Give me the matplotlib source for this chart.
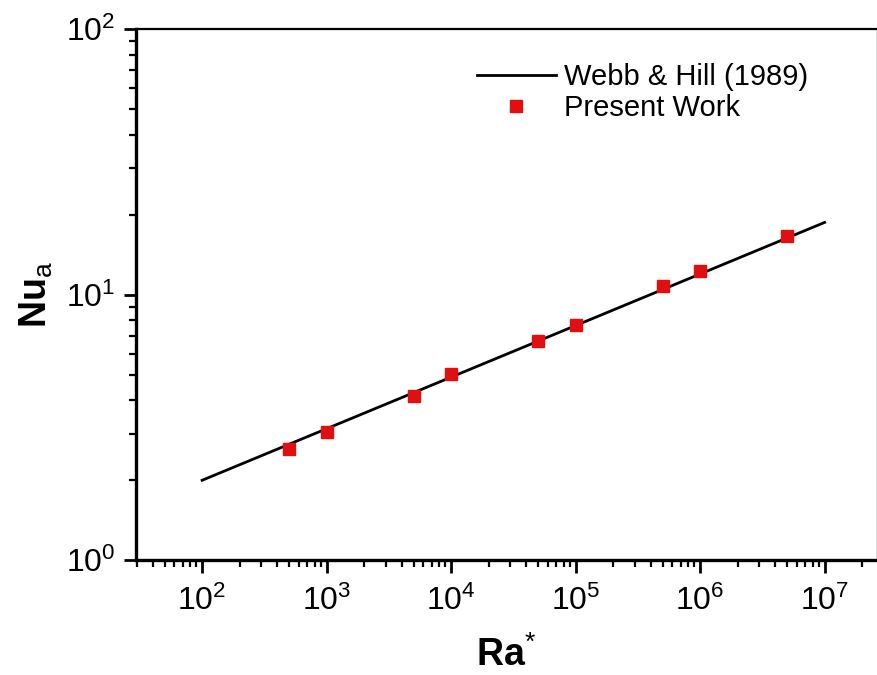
import matplotlib
matplotlib.use('Agg')
import matplotlib.pyplot as plt
from matplotlib.ticker import LogLocator, NullFormatter

plt.rcParams['font.family'] = ['Liberation Sans', 'DejaVu Sans']
plt.rcParams['mathtext.fontset'] = 'custom'
plt.rcParams['mathtext.rm'] = 'Liberation Sans'
plt.rcParams['mathtext.bf'] = 'Liberation Sans:bold'

# Webb & Hill (1989) correlation, read at its two ends
ra_line = [1e2, 1e7]
nu_line = [2.0, 18.7]

# present work
ra_pts = [5e2, 1e3, 5e3, 1e4, 5e4, 1e5, 5e5, 1e6, 5e6]
nu_pts = [2.62, 3.03, 4.15, 5.02, 6.68, 7.67, 10.8, 12.3, 16.6]

fig = plt.figure(figsize=(8.78, 6.75), dpi=100)
ax = fig.add_axes([0.155, 0.170, 0.843, 0.787])

ax.plot(ra_line, nu_line, color='black', lw=2.0, label='Webb & Hill (1989)', zorder=2)
ax.plot(ra_pts, nu_pts, 's', color='#e01010', ms=8.5, mec='#e01010',
        linestyle='none', label='Present Work', zorder=3)

ax.set_xscale('log')
ax.set_yscale('log')
ax.set_xlim(29.5, 2.6e7)
ax.set_ylim(1, 100)

ax.xaxis.set_major_locator(LogLocator(base=10, numticks=20))
ax.xaxis.set_minor_locator(LogLocator(base=10, subs=range(2, 10), numticks=50))
ax.xaxis.set_minor_formatter(NullFormatter())
ax.yaxis.set_major_locator(LogLocator(base=10, numticks=20))
ax.yaxis.set_minor_locator(LogLocator(base=10, subs=range(2, 10), numticks=50))
ax.yaxis.set_minor_formatter(NullFormatter())

ax.tick_params(which='major', direction='out', length=9, width=2, labelsize=23,
               top=False, right=False, pad=6)
ax.tick_params(axis='x', which='major', pad=9)
ax.tick_params(which='minor', direction='out', length=5, width=1.6,
               top=False, right=False)

ax.spines['left'].set_linewidth(2.4)
ax.spines['bottom'].set_linewidth(2.4)
ax.spines['top'].set_linewidth(1.6)
ax.spines['right'].set_linewidth(0.6)
ax.spines['right'].set_color('#cccccc')

ax.set_xlabel(r'Ra$^{*}$', fontsize=27, fontweight='bold', labelpad=14)
ax.set_ylabel(r'Nu$_{\mathrm{a}}$', fontsize=27, fontweight='bold', labelpad=8)

ax.legend(loc='upper left', bbox_to_anchor=(0.425, 0.985), frameon=False,
          fontsize=21, handlelength=2.7, handletextpad=0.3, labelspacing=0.1)

fig.savefig('out.png', dpi=100)
